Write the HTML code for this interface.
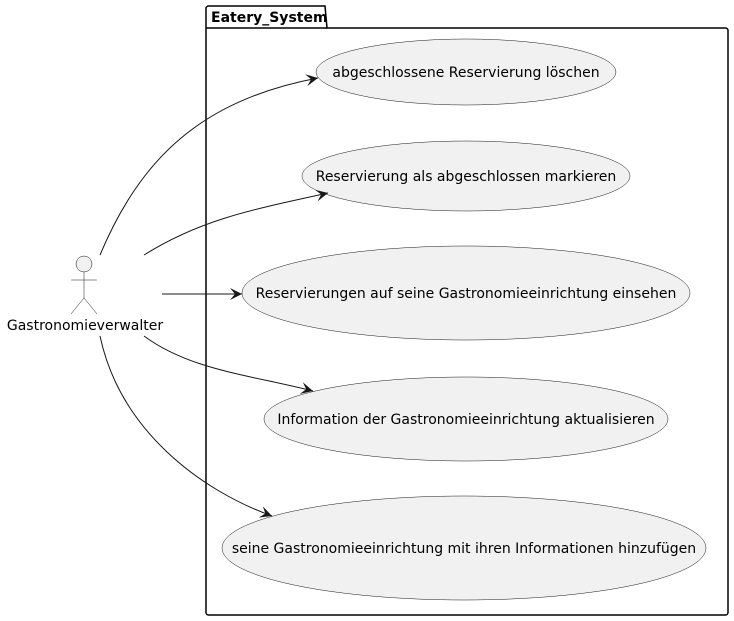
<!DOCTYPE html>
<html><head><meta charset="utf-8"><style>html,body{margin:0;padding:0;background:#fff}svg{display:block}</style></head>
<body>
<svg width="734" height="621" viewBox="0 0 734 621" xmlns="http://www.w3.org/2000/svg" font-family="'DejaVu Sans','Liberation Sans',sans-serif">
<defs><marker id="a" markerWidth="14" markerHeight="12" refX="12" refY="6" orient="auto" markerUnits="userSpaceOnUse"><path d="M0,0 L12,6 L0,12 L5,6 Z" fill="#181818"/></marker></defs>
<path d="M206,28 V8.5 A2.5,2.5 0 0 1 208.5,6 H325 L327,28 H725.5 A2.5,2.5 0 0 1 728,30.5 V612.5 A2.5,2.5 0 0 1 725.5,615 H208.5 A2.5,2.5 0 0 1 206,612.5 Z" fill="none" stroke="#000" stroke-width="1.5"/>
<line x1="206" y1="28" x2="327" y2="28" stroke="#000" stroke-width="1.5"/>
<text x="211" y="22" font-size="14" font-weight="bold">Eatery_System</text>
<g fill="#f1f1f1" stroke="#181818" stroke-width="0.5">
<ellipse cx="466" cy="72" rx="150" ry="33"/>
<ellipse cx="466" cy="176" rx="164" ry="35"/>
<ellipse cx="466" cy="293" rx="224" ry="47"/>
<ellipse cx="466" cy="419" rx="202" ry="42"/>
<ellipse cx="464" cy="548" rx="242" ry="52"/>
</g>
<g font-size="14" fill="#000" text-anchor="middle">
<text x="466" y="77">abgeschlossene Reservierung löschen</text>
<text x="466" y="181">Reservierung als abgeschlossen markieren</text>
<text x="466" y="298">Reservierungen auf seine Gastronomieeinrichtung einsehen</text>
<text x="466" y="424">Information der Gastronomieeinrichtung aktualisieren</text>
<text x="464" y="553">seine Gastronomieeinrichtung mit ihren Informationen hinzufügen</text>
<text x="85" y="330">Gastronomieverwalter</text>
</g>
<g fill="none" stroke="#181818" stroke-width="1">
<circle cx="84" cy="264" r="8" fill="#f1f1f1" stroke-width="0.5"/>
<path d="M84,272 V298 M71,280 H97 M71,314 L84,298 L97,314" stroke-width="0.5"/>
<path d="M100,255 C140,160 200,100 318,78" marker-end="url(#a)"/>
<path d="M144,255 C200,220 250,210 328,193" marker-end="url(#a)"/>
<path d="M162,294 H242" marker-end="url(#a)"/>
<path d="M144,336 C190,370 250,375 313,391" marker-end="url(#a)"/>
<path d="M100,336 C120,430 200,490 272,516" marker-end="url(#a)"/>
</g>
</svg>
</body></html>
